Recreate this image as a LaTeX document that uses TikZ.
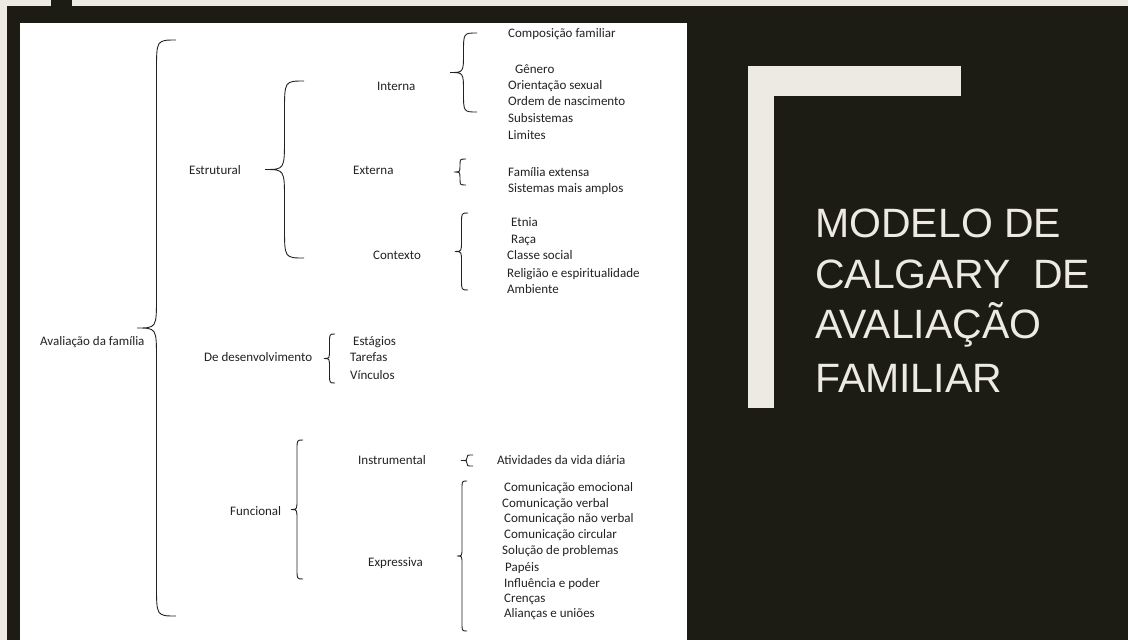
\documentclass[tikz,border=0pt]{standalone}
\usepackage{fontspec}
\setmainfont{Carlito}
\newfontfamily\titlefont{Liberation Sans}
\usetikzlibrary{calc}
\definecolor{slide}{HTML}{1C1C14}
\definecolor{cream}{HTML}{ECEAE3}
\definecolor{ink}{HTML}{222222}

\begin{document}
\begin{tikzpicture}[
	x=1pt, y=1pt,
	item/.style={anchor=west, inner sep=0pt, text height=8pt, text depth=0pt,
		text=ink, font=\fontsize{13}{15}\selectfont},
	title/.style={anchor=base west, inner sep=0pt, text=cream,
		font=\titlefont\fontsize{41}{49}\selectfont},
	curly/.style={ink, line width=0.9pt, to path={
		let \p1=(\tikztostart), \p2=(\tikztotarget),
			\n2={min(0.8*#1,(\y1-\y2)/4)}, \n3={(\y1+\y2)/2} in
		.. controls (\x1-0.5*#1,\y1) .. (\x1-0.5*#1,\y1-\n2)
		-- (\x1-0.5*#1,\n3+\n2)
		.. controls (\x1-0.5*#1,\n3) .. (\x1-#1,\n3)
		.. controls (\x1-0.5*#1,\n3) .. (\x1-0.5*#1,\n3-\n2)
		-- (\x1-0.5*#1,\y2+\n2)
		.. controls (\x1-0.5*#1,\y2) .. (\tikztotarget)}}
	]
	\useasboundingbox (0,0) rectangle (1128,-640);
	\fill [cream] (0,0) rectangle (1128,-640);
	\fill [slide] (7,-6) rectangle (1128,-640);
	\fill [slide] (51,0) rectangle (72,-6);
	\fill [white] (20,-23) rectangle (687,-640);
	\fill [cream] (748,-66) rectangle (961,-96);
	\fill [cream] (748,-96) rectangle (774,-408);

	\node [title] (t1) at (815,-237) {MODELO DE};
	\node [title] (t2) at (815,-288) {CALGARY\ \ DE};
	\node [title] (t3) at (815,-338) {AVALIAÇÃO};
	\node [title] (t4) at (815,-392) {FAMILIAR};

	\node [item] (1) at (40,-341) {Avaliação da família};
	\node [item] (2) at (189,-170) {Estrutural};
	\node [item] (3) at (204,-357) {De desenvolvimento};
	\node [item] (4) at (230,-511) {Funcional};

	\node [item] (5) at (377,-86) {Interna};
	\node [item] (6) at (353,-170) {Externa};
	\node [item] (7) at (373,-255) {Contexto};
	\node [item] (8) at (358,-460) {Instrumental};
	\node [item] (9) at (368,-562) {Expressiva};

	\node [item] (10) at (508,-33) {Composição familiar};
	\node [item] (11) at (515,-69) {Gênero};
	\node [item] (12) at (508,-85) {Orientação sexual};
	\node [item] (13) at (508,-101) {Ordem de nascimento};
	\node [item] (14) at (508,-118) {Subsistemas};
	\node [item] (15) at (508,-135) {Limites};

	\node [item] (16) at (508,-172) {Família extensa};
	\node [item] (17) at (508,-188) {Sistemas mais amplos};

	\node [item] (18) at (511,-222) {Etnia};
	\node [item] (19) at (511,-239) {Raça};
	\node [item] (20) at (507,-255) {Classe social};
	\node [item] (21) at (507,-273) {Religião e espiritualidade};
	\node [item] (22) at (507,-289) {Ambiente};

	\node [item] (23) at (353,-341) {Estágios};
	\node [item] (24) at (350,-357) {Tarefas};
	\node [item] (25) at (350,-375) {Vínculos};

	\node [item] (26) at (497,-460) {Atividades da vida diária};

	\node [item] (27) at (504,-487) {Comunicação emocional};
	\node [item] (28) at (502,-503) {Comunicação verbal};
	\node [item] (29) at (504,-518) {Comunicação não verbal};
	\node [item] (30) at (504,-534) {Comunicação circular};
	\node [item] (31) at (502,-550) {Solução de problemas};
	\node [item] (32) at (505,-567) {Papéis};
	\node [item] (33) at (504,-583) {Influência e poder};
	\node [item] (34) at (504,-598) {Crenças};
	\node [item] (35) at (504,-613) {Alianças e uniões};

	\coordinate (1t) at (176,-40);
	\coordinate (1b) at (176,-616);
	\coordinate (2t) at (304,-81);
	\coordinate (2b) at (304,-258);
	\coordinate (3t) at (335,-334);
	\coordinate (3b) at (335,-383);
	\coordinate (4t) at (303,-440);
	\coordinate (4b) at (303,-579);
	\coordinate (5t) at (477,-33);
	\coordinate (5b) at (477,-112);
	\coordinate (6t) at (466,-159);
	\coordinate (6b) at (466,-185);
	\coordinate (7t) at (468,-213);
	\coordinate (7b) at (468,-290);
	\coordinate (8t) at (473,-455);
	\coordinate (8b) at (473,-466);
	\coordinate (9t) at (467,-481);
	\coordinate (9b) at (467,-631);

	\draw [ curly=39 ] (1t) to (1b);
	\draw [ curly=39 ] (2t) to (2b);
	\draw [ curly=11 ] (3t) to (3b);
	\draw [ curly=12 ] (4t) to (4b);
	\draw [ curly=27 ] (5t) to (5b);
	\draw [ curly=12 ] (6t) to (6b);
	\draw [ curly=13 ] (7t) to (7b);
	\draw [ curly=12 ] (8t) to (8b);
	\draw [ curly=10 ] (9t) to (9b);
\end{tikzpicture}
\end{document}
